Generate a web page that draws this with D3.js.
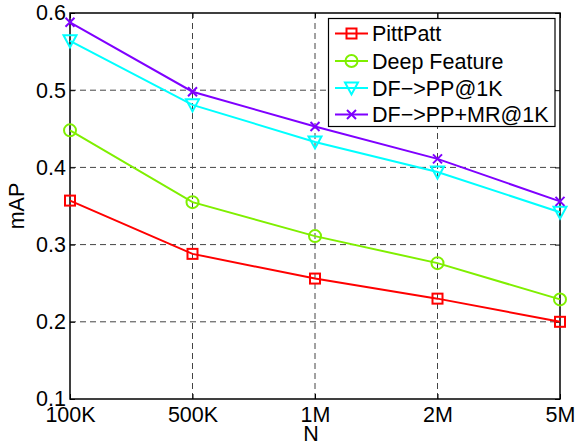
<!DOCTYPE html>
<html><head><meta charset="utf-8">
<script src="https://cdn.jsdelivr.net/npm/d3@7"></script>
<style>body{margin:0;background:#fff;} svg{display:block;font-family:"Liberation Sans",Arial,sans-serif;}</style>
</head><body>
<script>
const categories = ["100K","500K","1M","2M","5M"];
const yTicks = [0.1,0.2,0.3,0.4,0.5,0.6];
const seriesNames = ["PittPatt","Deep Feature","DF\u2212>PP@1K","DF\u2212>PP+MR@1K"];
const pittPatt = [0.357,0.288,0.256,0.230,0.200];
const deepFeature = [0.448,0.355,0.311,0.276,0.229];
const dfPP = [0.564,0.481,0.433,0.394,0.342];
const dfPPMR = [0.588,0.498,0.453,0.411,0.356];
const seriesColors = ["#ff0000","#7fef00","#00ffff","#7f00ff"];
const seriesMarkers = ["square","circle","triangle","x"];

const W=577,H=442;
const m={l:70,r:17,t:13,b:43};
const svg=d3.select("body").append("svg").attr("width",W).attr("height",H);
const x=d3.scalePoint().domain(categories).range([m.l,W-m.r]);
const y=d3.scaleLinear().domain([0.1,0.6]).range([H-m.b,m.t]);
const x0=m.l,x1=W-m.r,y0=H-m.b,y1=m.t;

// grid
const g=svg.append("g");
categories.forEach(c=>{ if(c!==categories[0]&&c!==categories[categories.length-1])
  g.append("line").attr("x1",x(c)).attr("x2",x(c)).attr("y1",y0).attr("y2",y1)
   .attr("stroke","#444").attr("stroke-width",1).attr("stroke-dasharray","6,4");});
yTicks.forEach(v=>{ if(v>0.1&&v<0.6)
  g.append("line").attr("x1",x0).attr("x2",x1).attr("y1",y(v)).attr("y2",y(v))
   .attr("stroke","#444").attr("stroke-width",1).attr("stroke-dasharray","6,4");});

// axes
const fs=21.5;
const ax=svg.append("g").attr("transform",`translate(0,${y0})`).call(d3.axisBottom(x).tickSizeInner(-5).tickSizeOuter(0).tickPadding(8));
const axT=svg.append("g").attr("transform",`translate(0,${y1})`).call(d3.axisTop(x).tickSizeInner(-5).tickSizeOuter(0).tickFormat(""));
const ay=svg.append("g").attr("transform",`translate(${x0},0)`).call(d3.axisLeft(y).tickValues(yTicks).tickFormat(d3.format(".1f")).tickSizeInner(-5).tickSizeOuter(0).tickPadding(4));
const ayR=svg.append("g").attr("transform",`translate(${x1},0)`).call(d3.axisRight(y).tickValues(yTicks).tickSizeInner(-5).tickSizeOuter(0).tickFormat(""));
[ax,axT,ay,ayR].forEach(a=>{a.selectAll(".domain").remove();a.selectAll("line").attr("stroke","#000");
  a.selectAll("text").attr("font-size",fs).attr("fill","#000").attr("font-family","Liberation Sans, Arial, sans-serif");});
ax.selectAll("text").attr("dy","0.72em");
svg.append("rect").attr("x",x0).attr("y",y1).attr("width",x1-x0).attr("height",y0-y1)
  .attr("fill","none").attr("stroke","#000").attr("stroke-width",1.5);

svg.append("text").attr("x",(x0+x1)/2-4).attr("y",441).attr("text-anchor","middle").attr("font-size",fs).text("N");
svg.append("text").attr("transform",`translate(${24},${(y0+y1)/2}) rotate(-90)`).attr("text-anchor","middle").attr("font-size",fs).text("mAP");

function marker(sel,type,color,cx,cy){
  if(type==="square") sel.append("rect").attr("x",cx-5).attr("y",cy-5).attr("width",10).attr("height",10).attr("fill","none").attr("stroke",color).attr("stroke-width",2);
  else if(type==="circle") sel.append("circle").attr("cx",cx).attr("cy",cy).attr("r",6).attr("fill","none").attr("stroke",color).attr("stroke-width",2);
  else if(type==="triangle") sel.append("path").attr("d",`M${cx-6.5},${cy-5.5}L${cx+6.5},${cy-5.5}L${cx},${cy+6.5}Z`).attr("fill","none").attr("stroke",color).attr("stroke-width",2);
  else sel.append("path").attr("d",`M${cx-4.5},${cy-4.5}L${cx+4.5},${cy+4.5}M${cx-4.5},${cy+4.5}L${cx+4.5},${cy-4.5}`).attr("stroke",color).attr("stroke-width",2);
}

const allSeries=[pittPatt,deepFeature,dfPP,dfPPMR];
const line=d3.line().x((d,i)=>x(categories[i])).y(d=>y(d));
allSeries.forEach((s,k)=>{
  const sg=svg.append("g");
  sg.append("path").datum(s).attr("d",line).attr("fill","none").attr("stroke",seriesColors[k]).attr("stroke-width",2);
  s.forEach((v,i)=>marker(sg,seriesMarkers[k],seriesColors[k],x(categories[i]),y(v)));
});

// legend
const lg=svg.append("g");
lg.append("rect").attr("x",328.5).attr("y",18.5).attr("width",226.5).attr("height",108).attr("fill","#fff").attr("stroke","#000").attr("stroke-width",1.2);
const ly=[33.5,61,88,114.5];
seriesNames.forEach((n,k)=>{
  lg.append("line").attr("x1",335).attr("x2",368).attr("y1",ly[k]).attr("y2",ly[k]).attr("stroke",seriesColors[k]).attr("stroke-width",2);
  marker(lg,seriesMarkers[k],seriesColors[k],351.5,ly[k]);
  lg.append("text").attr("x",372).attr("y",ly[k]).attr("dy","0.36em").attr("font-size",fs).text(n);
});
</script>
</body></html>
